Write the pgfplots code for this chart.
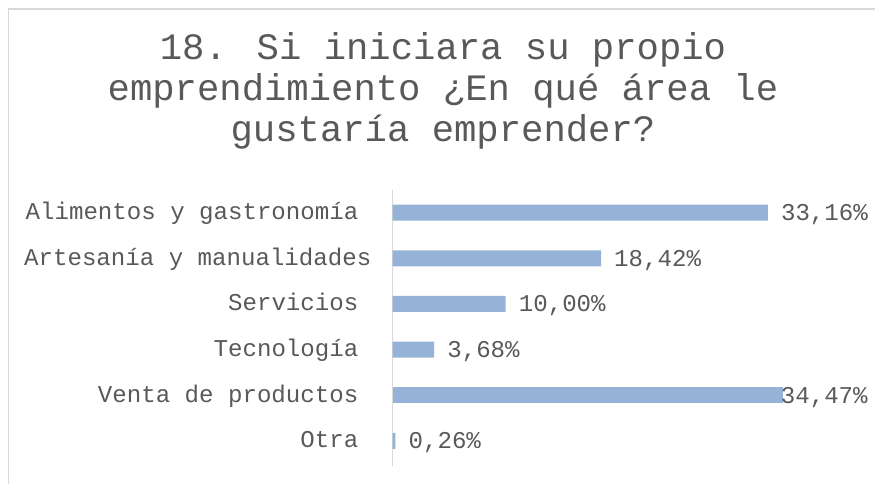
\documentclass[border=0pt]{standalone}
\usepackage{pgfplots}
\pgfplotsset{compat=1.18}
\usepackage{fontspec}
\setmainfont{Liberation Mono}
\definecolor{txt}{HTML}{595959}
\definecolor{barc}{HTML}{95B3D7}
\definecolor{framec}{HTML}{D9D9D9}
\begin{document}
\begin{tikzpicture}[x=1pt,y=1pt]
\useasboundingbox (0,0) rectangle (875,484);
\fill[white] (0,0) rectangle (875,484);
\draw[framec, line width=1.2pt] (8.5,475) rectangle (890,-10);
\tikzset{ttl/.style={anchor=base, text=txt, inner sep=0pt, font=\fontsize{37.25}{42}\selectfont}}
\node[ttl] at (443,424) {18. Si iniciara su propio};
\node[ttl] at (443,383) {emprendimiento ¿En qué área le};
\node[ttl] at (443,342.5) {gustaría emprender?};
\begin{axis}[
  at={(392.5pt,18pt)}, anchor=south west, scale only axis,
  width=452.8pt, height=276.2pt,
  xmin=0, xmax=40, ymin=-0.55, ymax=5.5,
  clip=false,
  axis x line*=bottom, axis y line*=left,
  x axis line style={draw=none},
  y axis line style={draw=framec, line width=1.2pt},
  axis line style={-},
  xtick=\empty,
  ytick={0,1,2,3,4,5},
  yticklabels={Otra, Venta de productos, Tecnología, Servicios, Artesanía y manualidades\kern-13pt, Alimentos y gastronomía},
  ytick style={draw=none},
  major tick length=0pt,
  yticklabel style={anchor=base east, inner sep=0pt, xshift=-34pt, yshift=-7pt, text=txt, font=\fontsize{24.1}{28}\selectfont},
  xbar, bar width=16pt, bar shift=0pt,
  point meta=x,
  nodes near coords={\pgfmathprintnumber[fixed,fixed zerofill,precision=2,use comma,assume math mode=true]{\pgfplotspointmeta}\%},
  nodes near coords style={anchor=base west, inner sep=0pt, yshift=-7.9pt, text=txt, font=\fontsize{24.1}{28}\selectfont},
]
\addplot[fill=barc, draw=none, nodes near coords style={xshift=13pt}] coordinates {(33.16,5) (18.42,4) (10.00,3) (3.68,2) (0.26,0)};
\addplot[fill=barc, draw=none, nodes near coords style={xshift=-2pt}] coordinates {(34.47,1)};
\end{axis}
\end{tikzpicture}
\end{document}
